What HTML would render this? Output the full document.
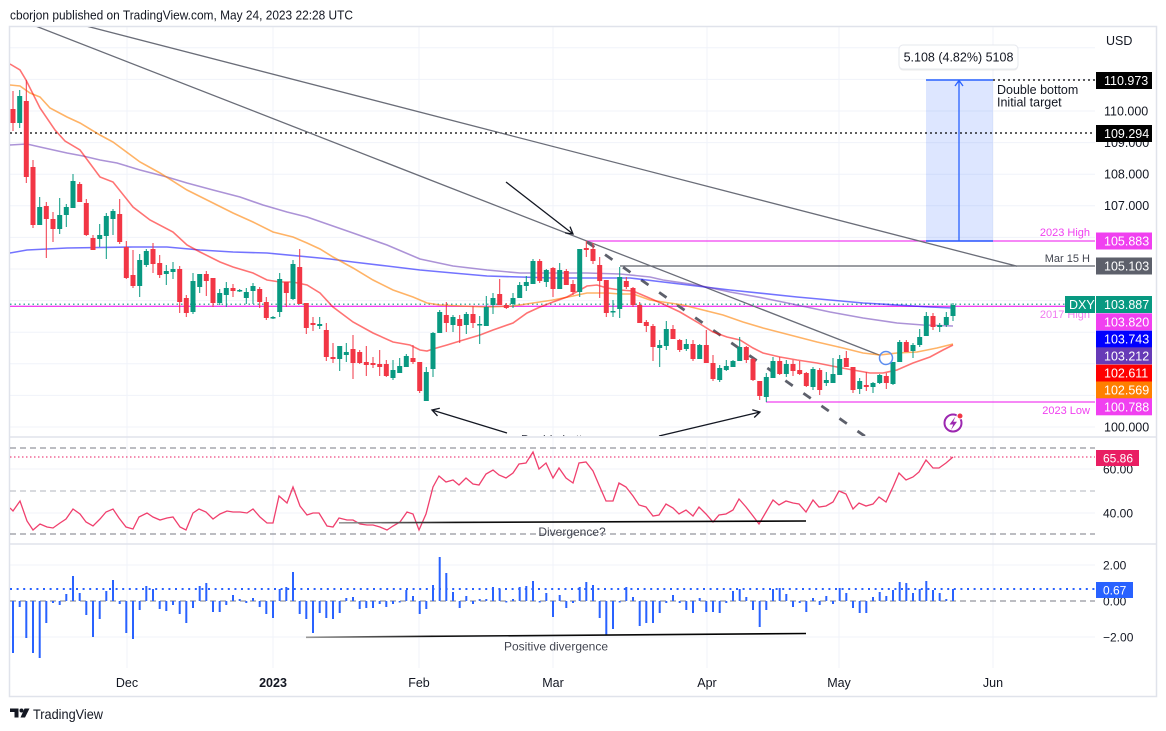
<!DOCTYPE html>
<html><head><meta charset="utf-8"><style>
html,body{margin:0;padding:0;background:#fff;}
body{width:1166px;height:731px;overflow:hidden;}
svg{display:block;font-family:"Liberation Sans",Arial,sans-serif;}
</style></head><body>
<svg width="1166" height="731" viewBox="0 0 1166 731" xmlns="http://www.w3.org/2000/svg">
<defs>
<clipPath id="cm"><rect x="10" y="27" width="1085" height="409"/></clipPath>
<clipPath id="cr"><rect x="10" y="438" width="1085" height="105"/></clipPath>
<clipPath id="ch"><rect x="10" y="545" width="1085" height="123"/></clipPath>
<linearGradient id="gd" x1="0" x2="1" y1="0" y2="0"><stop offset="0" stop-color="#9a9a9a"/><stop offset="0.25" stop-color="#111"/><stop offset="1" stop-color="#000"/></linearGradient>
</defs>
<rect width="1166" height="731" fill="#fff"/>
<text x="10" y="19.5" font-size="13" fill="#131722" textLength="343" lengthAdjust="spacingAndGlyphs">cborjon published on TradingView.com, May 24, 2023 22:28 UTC</text>

<!-- grid -->
<g stroke="#f0f3fa" stroke-width="1">
<path d="M10 47.8H1095M10 79.4H1095M10 111H1095M10 142.6H1095M10 174.2H1095M10 205.8H1095M10 237.4H1095M10 269H1095M10 300.6H1095M10 332.2H1095M10 363.8H1095M10 395.4H1095M10 427H1095"/>
<path d="M10 469H1095M10 513H1095M10 565H1095M10 637H1095"/>
<path d="M127 27V668M273 27V668M419 27V668M553 27V668M707 27V668M839 27V668M993 27V668"/>
</g>

<!-- frame & separators -->
<rect x="9.5" y="26.5" width="1147" height="670" fill="none" stroke="#e0e3eb" stroke-width="1.5"/>
<path d="M10 437H1156M10 544H1156" stroke="#e0e3eb" stroke-width="1.5"/>

<!-- MAIN PANE -->
<g clip-path="url(#cm)">
<!-- blue box -->
<rect x="926" y="80" width="67" height="161" fill="#2962ff" fill-opacity="0.16"/>
<!-- horizontal lines -->
<path d="M10 133H1095" stroke="#000" stroke-width="1.2" stroke-dasharray="2 3"/>
<path d="M993 80H1095" stroke="#000" stroke-width="1.2" stroke-dasharray="2 3"/>
<path d="M587 241H1095" stroke="#f040f0" stroke-width="1.3"/>
<path d="M620 266H1095" stroke="#5d606b" stroke-width="1.3"/>
<path d="M10 306.3H1095" stroke="#f040f0" stroke-width="1.3"/>
<path d="M10 304.2H1095" stroke="#089981" stroke-width="1.2" stroke-dasharray="1.5 3"/>
<path d="M766 402H1095" stroke="#f040f0" stroke-width="1.3"/>
<path d="M926 80H993M926 241H993" stroke="#2962ff" stroke-width="1.5"/>
<path d="M959 241V81M955 86L959 80.5L963 86" stroke="#2962ff" stroke-width="1.3" fill="none"/>
<!-- trend lines -->
<path d="M83 25.2L1017 266.2" stroke="#6a6d78" stroke-width="1.3"/>
<path d="M33 25L880 355.4" stroke="#6a6d78" stroke-width="1.3"/>
<path d="M587 242L866 437" stroke="#5d606b" stroke-width="2.8" stroke-dasharray="9 13"/>
<!-- moving averages -->
<polyline fill="none" stroke="#0000ff" stroke-opacity="0.55" stroke-width="1.6" points="10,253 27,250 67,248 133,247 167,247 200,250 233,252 267,253 330,259 353,262 387,266 420,270 453,273 487,276 520,277 553,278 587,278 630,278 663,282 730,290 797,297 863,303 930,307 953,308"/>
<polyline fill="none" stroke="#673ab7" stroke-opacity="0.55" stroke-width="1.6" points="10,145 27,144 40,147 67,153 83,156 100,160 117,163 140,170 167,177 187,183 213,190 240,197 263,205 287,212 307,217 330,225 353,233 387,245 420,259 453,266 487,270 520,273 553,273 587,273 620,274 650,277 663,280 697,285 730,292 763,298 797,305 830,312 863,318 897,323 923,325 953,326"/>
<polyline fill="none" stroke="#ff8000" stroke-opacity="0.6" stroke-width="1.6" points="10,85 20,86 30,93 40,97 50,108 67,117 80,123 100,135 113,142 140,162 160,173 187,190 207,200 233,213 253,222 273,232 293,237 307,243 320,249 333,257 353,268 373,280 393,290 413,297 427,303 440,305 460,306 487,307 513,306 533,303 553,300 573,296 587,293 607,293 620,294 633,294 650,300 663,302 683,305 703,310 723,315 743,322 763,328 790,335 817,342 843,348 863,353 880,355 897,353 917,352 937,348 953,344"/>
<polyline fill="none" stroke="#ff0000" stroke-opacity="0.55" stroke-width="1.6" points="10,64 20,70 26,80 40,108 55,130 65,141 80,150 100,177 113,182 133,207 150,220 173,232 187,245 200,252 220,262 233,267 253,273 267,280 280,282 293,282 307,285 320,293 333,307 353,322 373,333 393,342 410,345 420,350 427,351 433,349 447,345 460,341 480,335 493,330 513,323 527,313 540,307 553,302 567,297 580,290 587,286 597,285 607,288 620,290 633,291 647,297 663,304 680,312 697,322 713,332 727,337 740,340 753,348 763,353 780,357 797,360 817,363 837,367 853,370 870,373 883,373 897,370 913,363 930,357 943,350 953,345"/>
<!-- candles red -->
<path stroke="#f23645" stroke-width="1" fill="none" d="M13 91V131M26.3 80V183M33 160V228M46.3 202V258M53 212V242M79.7 182V202M86.3 199V236M93 235V250M119.7 199V244M126.3 241V279M133 250V288M153 243V273M159.7 255V278M179.7 266V313M186.3 295V317M206.3 271V296M213 278V307M233 284V297M259.7 287V308M266.3 297V320M286.3 282V307M299.7 249V304M306.3 303V334M313 317V331M326.3 323V361M333 343V363M353 335V379M359.7 350V364M366.3 346V376M373 357V368M379.7 350V376M386.3 360V377M413 345V364M419.7 362V393M446.3 302V332M459.7 315V343M473 306V328M499.7 279V305M506.3 303V309M539.7 259V283M553 267V297M566.3 269V285M573 280V295M586.3 241V257M593 243V264M599.7 257V298M606.3 280V317M626.3 277V289M633 287V307M639.7 302V323M646.3 320V332M653 324V361M673 325V339M679.7 339V352M693 340V361M706.3 330V363M713 355V381M746.3 346V363M753 358V381M759.7 381V400M779.7 357V375M793 360V376M799.7 361V375M806.3 372V387M819.7 368V395M846.3 351V367M853 367V393M866.3 372V391M886.3 373V389M906.3 340V352M933 313V330"/>
<path fill="#f23645" d="M10.5 109h5V123h-5ZM23.8 101h5V177h-5ZM30.5 167h5V225h-5ZM43.8 206h5V219h-5ZM50.5 219h5V229h-5ZM77.2 184h5V202h-5ZM83.8 203h5V235h-5ZM90.5 238h5V250h-5ZM117.2 214h5V242h-5ZM123.8 247h5V278h-5ZM130.5 275h5V286h-5ZM150.5 249h5V264h-5ZM157.2 263h5V275h-5ZM177.2 269h5V302h-5ZM183.8 298h5V313h-5ZM203.8 274h5V281h-5ZM210.5 278h5V303h-5ZM230.5 288h5V291h-5ZM257.2 289h5V302h-5ZM263.8 302h5V318h-5ZM283.8 282h5V293h-5ZM297.2 267h5V304h-5ZM303.8 303h5V328h-5ZM310.5 323h5V325h-5ZM323.8 330h5V357h-5ZM330.5 357h5V359h-5ZM350.5 349h5V363h-5ZM357.2 352h5V363h-5ZM363.8 362h5V365h-5ZM370.5 363h5V365h-5ZM377.2 364h5V367h-5ZM383.8 364h5V376h-5ZM410.5 358h5V362h-5ZM417.2 362h5V391h-5ZM443.8 315h5V323h-5ZM457.2 319h5V326h-5ZM470.5 314h5V323h-5ZM497.2 294h5V305h-5ZM503.8 305h5V308h-5ZM537.2 261h5V281h-5ZM550.5 268h5V289h-5ZM563.8 271h5V285h-5ZM570.5 284h5V292h-5ZM583.8 248h5V250h-5ZM590.5 249h5V261h-5ZM597.2 265h5V281h-5ZM603.8 280h5V313h-5ZM623.8 281h5V287h-5ZM630.5 288h5V305h-5ZM637.2 305h5V323h-5ZM643.8 322h5V326h-5ZM650.5 326h5V347h-5ZM670.5 329h5V339h-5ZM677.2 340h5V350h-5ZM690.5 344h5V359h-5ZM703.8 345h5V363h-5ZM710.5 363h5V379h-5ZM743.8 347h5V360h-5ZM750.5 359h5V380h-5ZM757.2 381h5V396h-5ZM777.2 361h5V374h-5ZM790.5 364h5V371h-5ZM797.2 370h5V374h-5ZM803.8 373h5V386h-5ZM817.2 370h5V390h-5ZM843.8 358h5V367h-5ZM850.5 367h5V390h-5ZM863.8 385h5V387h-5ZM883.8 376h5V383h-5ZM903.8 342h5V352h-5ZM930.5 316h5V327h-5Z"/>
<!-- candles green -->
<path stroke="#089981" stroke-width="1" fill="none" d="M19.7 90V128M39.7 197V225M59.7 198V234M66.3 204V227M73 174V208M99.7 224V247M106.3 213V259M113 209V235M139.7 254V297M146.3 249V267M166.3 265V285M173 262V279M193 273V314M199.7 274V293M219.7 289V305M226.3 282V307M239.7 289V292M246.3 288V304M253 283V304M273 316V319M279.7 273V317M293 260V300M319.7 317V329M339.7 346V371M346.3 343V362M393 360V380M399.7 358V373M406.3 354V367M426.3 367V401M433 332V377M439.7 310V333M453 315V332M466.3 312V334M479.7 316V344M486.3 296V326M493 293V314M513 293V308M519.7 282V298M526.3 276V291M533 259V284M546.3 269V287M559.7 263V289M579.7 249V297M613 300V317M619.7 267V318M659.7 340V367M666.3 321V350M686.3 339V351M699.7 344V359M719.7 365V382M726.3 360V371M733 360V367M739.7 337V361M766.3 373V402M773 357V378M786.3 360V377M813 367V390M826.3 372V386M833 358V383M839.7 355V375M859.7 378V394M873 382V393M879.7 374V384M893 362V385M899.7 340V362M913 343V358M919.7 329V347M926.3 312V336M939.7 323V332M946.3 312V327M953 303V321"/>
<path fill="#089981" d="M17.2 96h5V123h-5ZM37.2 207h5V225h-5ZM57.2 215h5V229h-5ZM63.8 207h5V215h-5ZM70.5 181h5V208h-5ZM97.2 235h5V239h-5ZM103.8 216h5V236h-5ZM110.5 211h5V219h-5ZM137.2 260h5V286h-5ZM143.8 251h5V265h-5ZM163.8 271h5V274h-5ZM170.5 269h5V272h-5ZM190.5 281h5V312h-5ZM197.2 274h5V287h-5ZM217.2 293h5V303h-5ZM223.8 288h5V295h-5ZM237.2 290h5V291.5h-5ZM243.8 292h5V298h-5ZM250.5 286h5V291h-5ZM270.5 317h5V318.5h-5ZM277.2 279h5V312h-5ZM290.5 264h5V299h-5ZM317.2 324h5V326h-5ZM337.2 346h5V359h-5ZM343.8 352h5V355h-5ZM390.5 370h5V378h-5ZM397.2 366h5V373h-5ZM403.8 356h5V367h-5ZM423.8 372h5V401h-5ZM430.5 333h5V369h-5ZM437.2 312h5V333h-5ZM450.5 317h5V325h-5ZM463.8 314h5V325h-5ZM477.2 324h5V325.5h-5ZM483.8 307h5V326h-5ZM490.5 298h5V305h-5ZM510.5 298h5V304h-5ZM517.2 285h5V298h-5ZM523.8 282h5V286h-5ZM530.5 261h5V284h-5ZM543.8 270h5V282h-5ZM557.2 270h5V289h-5ZM577.2 249h5V292h-5ZM610.5 311h5V312.5h-5ZM617.2 277h5V309h-5ZM657.2 345h5V348h-5ZM663.8 329h5V346h-5ZM683.8 344h5V349h-5ZM697.2 345h5V359h-5ZM717.2 368h5V380h-5ZM723.8 366h5V370h-5ZM730.5 361h5V367h-5ZM737.2 347h5V361h-5ZM763.8 377h5V397h-5ZM770.5 361h5V378h-5ZM783.8 364h5V374h-5ZM810.5 369h5V387h-5ZM823.8 380h5V383h-5ZM830.5 374h5V383h-5ZM837.2 359h5V375h-5ZM857.2 381h5V389h-5ZM870.5 383h5V387h-5ZM877.2 375h5V383h-5ZM890.5 362h5V384h-5ZM897.2 342h5V362h-5ZM910.5 345h5V351h-5ZM917.2 337h5V345h-5ZM923.8 316h5V336h-5ZM937.2 325h5V327h-5ZM943.8 317h5V325h-5ZM950.5 305h5V316h-5Z"/>
<!-- arrows -->
<g stroke="#131722" stroke-width="1.3" fill="none">
<path d="M506 182L573 234M570 226.6L573 234L565.1 232.9"/>
<path d="M507 433L432 410M437.5 415.9L432 410L439.8 408.2"/>
<path d="M659 436L760 412M752.3 409.7L760 412L754.2 417.5"/>
</g>
<circle cx="886" cy="358" r="6.5" fill="none" stroke="#5b8def" stroke-width="1.5"/>
<text x="521" y="443.5" font-size="12" fill="#434651">Double bottom</text>
<!-- lightning icon -->
<circle cx="953" cy="423" r="8.5" fill="#fff" stroke="#9c27b0" stroke-width="2"/>
<path d="M955.5 416.5L949.5 424.5L953.2 424.5L951 430L957 421.8L953.3 421.8Z" fill="#9c27b0"/>
<circle cx="960" cy="416" r="3" fill="#f23645" stroke="#fff" stroke-width="1"/>
<!-- annotations -->
<text x="1090" y="236" font-size="11" fill="#f040f0" text-anchor="end">2023 High</text>
<text x="1090" y="262" font-size="11" fill="#434651" text-anchor="end">Mar 15 H</text>
<text x="1090" y="318" font-size="11" fill="#f07af0" text-anchor="end">2017 High</text>
<text x="1090" y="414" font-size="11" fill="#f040f0" text-anchor="end">2023 Low</text>
<text x="997" y="94" font-size="12.5" fill="#131722">Double bottom</text>
<text x="997" y="106.5" font-size="12.5" fill="#131722">Initial target</text>
</g>
<!-- measurement label -->
<rect x="899" y="45.5" width="119" height="24" rx="4" fill="#000" fill-opacity="0.08" transform="translate(0,1)"/>
<rect x="899" y="45" width="119" height="24" rx="4" fill="#fff" stroke="#e6e8ee" stroke-width="1"/>
<text x="958.5" y="61.5" font-size="12.5" fill="#131722" text-anchor="middle">5.108 (4.82%) 5108</text>

<!-- RSI PANE -->
<g clip-path="url(#cr)">
<path d="M10 448H1095M10 534H1095" stroke="#787b86" stroke-width="1" stroke-dasharray="6 4"/>
<path d="M10 491H1095" stroke="#b2b5be" stroke-width="1" stroke-dasharray="6 4"/>
<path d="M10 457H1095" stroke="#e91e63" stroke-width="1" stroke-dasharray="1.5 2.5"/>
<polyline fill="none" stroke="#f0406e" stroke-width="1.3" points="10,508 13,511 20,501 27,521 33,530 40,524 47,527 53,528 60,523 66,519 73,509 80,514 86,522 93,526 100,519 106,512 113,509 119,518 126,527 133,529 139,517 147,513 153,517 160,520 167,518 173,517 180,527 186,530 193,513 199,509 206,512 213,519 220,514 227,511 233,512 240,512 247,513 253,509 260,517 267,523 273,523 279,496 287,503 293,487 300,506 307,515 313,513 319,513 327,526 333,527 339,518 347,520 353,520 360,524 367,525 373,525 380,527 387,530 393,526 400,522 407,512 413,514 419,530 426,514 433,487 439,476 446,482 453,480 459,485 466,478 473,484 479,485 486,474 493,470 499,475 506,478 513,473 519,464 526,463 533,452 539,469 546,463 553,478 559,468 566,478 573,483 579,463 586,462 593,471 599,485 606,501 613,501 619,483 626,487 633,496 639,505 646,507 653,516 659,515 666,504 673,508 679,514 686,510 693,516 699,507 706,514 713,522 719,515 726,514 733,510 739,499 746,507 753,516 759,524 766,512 773,500 779,505 786,501 793,503 799,504 806,512 813,500 819,507 826,506 833,502 839,491 846,494 853,509 859,503 866,506 873,504 879,497 886,502 893,487 899,473 906,480 913,477 919,472 926,460 933,468 939,468 946,463 953,457"/>
<path d="M339 522.8L806 521" stroke="url(#gd)" stroke-width="1.6"/>
<text x="572" y="536" font-size="12" fill="#434651" text-anchor="middle">Divergence?</text>
</g>

<!-- HISTOGRAM PANE -->
<g clip-path="url(#ch)">
<path d="M10 601H1095" stroke="#787b86" stroke-width="1" stroke-dasharray="6 4"/>
<path d="M10 589H1095" stroke="#2962ff" stroke-width="2" stroke-dasharray="2 4.6"/>
<path stroke="#2962ff" stroke-width="2" fill="none" d="M13 601V653M19.7 601V607M26.3 601V638M33 601V653M39.7 601V658M46.3 601V623M53 601V603M59.7 601V605M66.3 601V594M73 601V576M79.7 601V593M86.3 601V615M93 601V637M99.7 601V619M106.3 601V591M113 601V580M119.7 601V604M126.3 601V633M133 601V639M139.7 601V610M146.3 601V586M153 601V589M159.7 601V609M166.3 601V611M173 601V605M179.7 601V614M186.3 601V623M193 601V608M199.7 601V586M206.3 601V583M213 601V612M219.7 601V612M226.3 601V605M233 601V595M239.7 601V599M246.3 601V603M253 601V598M259.7 601V607M266.3 601V614M273 601V618M279.7 601V589M286.3 601V587M293 601V572M299.7 601V614M306.3 601V619M313 601V633M319.7 601V613M326.3 601V618M333 601V619M339.7 601V613M346.3 601V598M353 601V597M359.7 601V609M366.3 601V608M373 601V608M379.7 601V604M386.3 601V607M393 601V604M399.7 601V602.5M406.3 601V590M413 601V596M419.7 601V614M426.3 601V609M433 601V585M439.7 601V557M446.3 601V573M453 601V592M459.7 601V608M466.3 601V596M473 601V604M479.7 601V599M486.3 601V599M493 601V587M499.7 601V589M506.3 601V602.5M513 601V599M519.7 601V587M526.3 601V586M533 601V581M539.7 601V602.5M546.3 601V593M553 601V617M559.7 601V595M566.3 601V608M573 601V603M579.7 601V587M586.3 601V582M593 601V585M599.7 601V618M606.3 601V635M613 601V629M619.7 601V602.5M626.3 601V587M633 601V597M639.7 601V626M646.3 601V623M653 601V623M659.7 601V613M666.3 601V603M673 601V595M679.7 601V603M686.3 601V610M693 601V613M699.7 601V598M706.3 601V612M713 601V612M719.7 601V613M726.3 601V603M733 601V591M739.7 601V589M746.3 601V597M753 601V610M759.7 601V627M766.3 601V610M773 601V589M779.7 601V588M786.3 601V594M793 601V607M799.7 601V603M806.3 601V612M813 601V598M819.7 601V605M826.3 601V596M833 601V604M839.7 601V588M846.3 601V593M853 601V608M859.7 601V613M866.3 601V613M873 601V597M879.7 601V592M886.3 601V596M893 601V590M899.7 601V582M906.3 601V583M913 601V593M919.7 601V589M926.3 601V581M933 601V590M939.7 601V593M946.3 601V599M953 601V589"/>
<path d="M306 637.3L806 633.5" stroke="url(#gd)" stroke-width="1.6"/>
<text x="556" y="650.5" font-size="12" fill="#434651" text-anchor="middle">Positive divergence</text>
</g>

<!-- PRICE AXIS -->
<g font-size="12.5" fill="#131722">
<text x="1106" y="45">USD</text>
<text x="1104" y="115.5">110.000</text>
<text x="1104" y="147">109.000</text>
<text x="1104" y="178.5">108.000</text>
<text x="1104" y="210">107.000</text>
<text x="1104" y="431.5">100.000</text>
<text x="1103" y="473.5" font-size="12">60.00</text>
<text x="1103" y="517.5" font-size="12">40.00</text>
<text x="1103" y="569.5" font-size="12">2.00</text>
<text x="1103" y="605.5" font-size="12">0.00</text>
<text x="1103" y="641.5" font-size="12">−2.00</text>
</g>
<g font-size="12.5" fill="#fff">
<rect x="1096" y="72" width="56" height="17" fill="#000"/><text x="1104" y="85">110.973</text>
<rect x="1096" y="125" width="56" height="17" fill="#000"/><text x="1104" y="138">109.294</text>
<rect x="1096" y="232.5" width="56" height="17" fill="#f040f0"/><text x="1104" y="245.5">105.883</text>
<rect x="1096" y="257.5" width="56" height="17" fill="#5d606b"/><text x="1104" y="270.5">105.103</text>
<rect x="1065" y="296" width="30" height="17" fill="#089981"/><text x="1069" y="309">DXY</text>
<rect x="1096" y="296" width="56" height="17" fill="#089981"/><text x="1104" y="309">103.887</text>
<rect x="1096" y="313.3" width="56" height="17" fill="#f040f0"/><text x="1104" y="326.3">103.820</text>
<rect x="1096" y="330.6" width="56" height="17" fill="#0000ff"/><text x="1104" y="343.6">103.743</text>
<rect x="1096" y="347.3" width="56" height="17" fill="#673ab7"/><text x="1104" y="360.3">103.212</text>
<rect x="1096" y="364.6" width="56" height="17" fill="#ff0000"/><text x="1104" y="377.6">102.611</text>
<rect x="1096" y="381.5" width="56" height="17" fill="#ff7f00"/><text x="1104" y="394.5">102.569</text>
<rect x="1096" y="398.3" width="56" height="17" fill="#f040f0"/><text x="1104" y="411.3">100.788</text>
<rect x="1096" y="450" width="43" height="16" fill="#e91e63"/><text x="1103" y="462.5" font-size="12">65.86</text>
<rect x="1096" y="582" width="37" height="16" fill="#2962ff"/><text x="1103" y="594.5" font-size="12">0.67</text>
</g>

<!-- TIME AXIS -->
<g font-size="12.5" fill="#131722" text-anchor="middle">
<text x="127" y="687">Dec</text>
<text x="273" y="687" font-weight="bold">2023</text>
<text x="419" y="687">Feb</text>
<text x="553" y="687">Mar</text>
<text x="707" y="687">Apr</text>
<text x="839" y="687">May</text>
<text x="993" y="687">Jun</text>
</g>

<!-- footer logo -->
<g fill="#131722">
<path d="M10 708.5h8.5v9h-4v-5.5h-4.5z"/>
<circle cx="21.5" cy="710.5" r="2"/>
<path d="M24.5 708.5h5l-4.5 9h-4.5z"/>
</g>
<text x="33" y="719" font-size="14" fill="#131722" textLength="70" lengthAdjust="spacingAndGlyphs">TradingView</text>
</svg>
</body></html>
